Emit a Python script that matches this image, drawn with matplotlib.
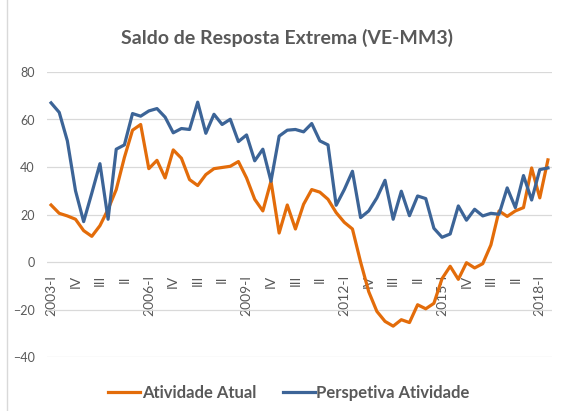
import matplotlib.pyplot as plt
from matplotlib.lines import Line2D

plt.rcParams['font.family'] = ['Lato', 'DejaVu Sans']

# trimestres 2003-I ... 2018-II
anos = range(2003, 2019)
romanos = ['I', 'II', 'III', 'IV']
n_pontos = 62

atividade_atual = [24, 20.5, 19.4, 18, 13.2, 10.8, 15.3, 22.2, 30.5, 44,
                   55.5, 57.9, 39.3, 42.8, 35.4, 47.2, 43.7, 34.7, 32.2, 36.8,
                   39.3, 39.8, 40.3, 42.3, 35.4, 26.4, 21.5, 34, 12.2, 24,
                   13.9, 24.3, 30.5, 29.4, 26.4, 20.8, 16.7, 13.9, 0, -12.5,
                   -20.8, -25, -27, -24.3, -25.5, -18, -19.7, -17.4, -7, -1.8,
                   -7.3, -0.3, -2.5, -0.7, 7.2, 21.5, 19.2, 21.5, 22.9, 39.6,
                   27, 43]
perspetiva_atividade = [67, 63, 51, 30, 17, 29, 41.4, 18, 47.5, 49.3,
                        62.5, 61.4, 63.6, 64.6, 61, 54.4, 56.2, 55.8, 67.3, 54.2,
                        62.2, 57.9, 60.1, 50.7, 53.5, 42.6, 47.5, 34, 53, 55.5,
                        55.8, 54.8, 58.3, 51, 49.3, 23.9, 30.5, 38.2, 18.7, 21.5,
                        27, 34.4, 18, 29.8, 19.5, 27.8, 26.7, 14.2, 10.4, 11.8,
                        23.6, 17.6, 22.2, 19.4, 20.5, 20.1, 31.2, 22.9, 36.4, 26.1,
                        38.9, 39.6]

rotulos = []
for i in range(n_pontos):
    ano = 2003 + i // 4
    q = i % 4
    rotulos.append(f'{ano}-I' if q == 0 else romanos[q])

cinza = '#595959'
laranja = '#E36C0A'
azul = '#3C6497'

fig = plt.figure(figsize=(5.61, 4.11), dpi=100)
ax = fig.add_axes([47 / 561, 1 - 357 / 411, 505 / 561, 285 / 411])

x = list(range(n_pontos))
ax.plot(x, atividade_atual, color=laranja, lw=2.3, label='Atividade Atual', solid_joinstyle='round')
ax.plot(x, perspetiva_atividade, color=azul, lw=2.3, label='Perspetiva Atividade', solid_joinstyle='round')

ax.set_xlim(-0.5, n_pontos - 0.5)
ax.set_ylim(-40, 80)
ax.set_yticks(range(-40, 81, 20))
ax.grid(axis='y', color='#D9D9D9', lw=0.9)
ax.set_axisbelow(True)
for s in ax.spines.values():
    s.set_visible(False)
ax.spines['bottom'].set_position(('data', 0))

idx = list(range(0, n_pontos, 3))
ax.set_xticks(idx)
ax.set_xticklabels([rotulos[i] for i in idx], rotation=90, va='top', ha='center')
ax.tick_params(axis='x', length=0, pad=9.5, labelsize=10, labelcolor=cinza)
ax.tick_params(axis='y', length=0, pad=9, labelsize=9, labelcolor=cinza)

fig.text(287 / 561, 1 - 38 / 411, 'Saldo de Resposta Extrema (VE-MM3)', ha='center', va='center',
         fontsize=14, fontweight='bold', color=cinza)

fig.legend(loc='center', bbox_to_anchor=(289 / 561, 1 - 393 / 411), ncol=2, frameon=False,
           handlelength=1.9, handletextpad=0.1, columnspacing=1.6,
           prop={'size': 12, 'weight': 'bold'}, labelcolor=cinza)

fig.add_artist(Line2D([7 / 561, 7 / 561], [0, 1], color='#D9D9D9', lw=1))

fig.savefig('out.png', dpi=100)
